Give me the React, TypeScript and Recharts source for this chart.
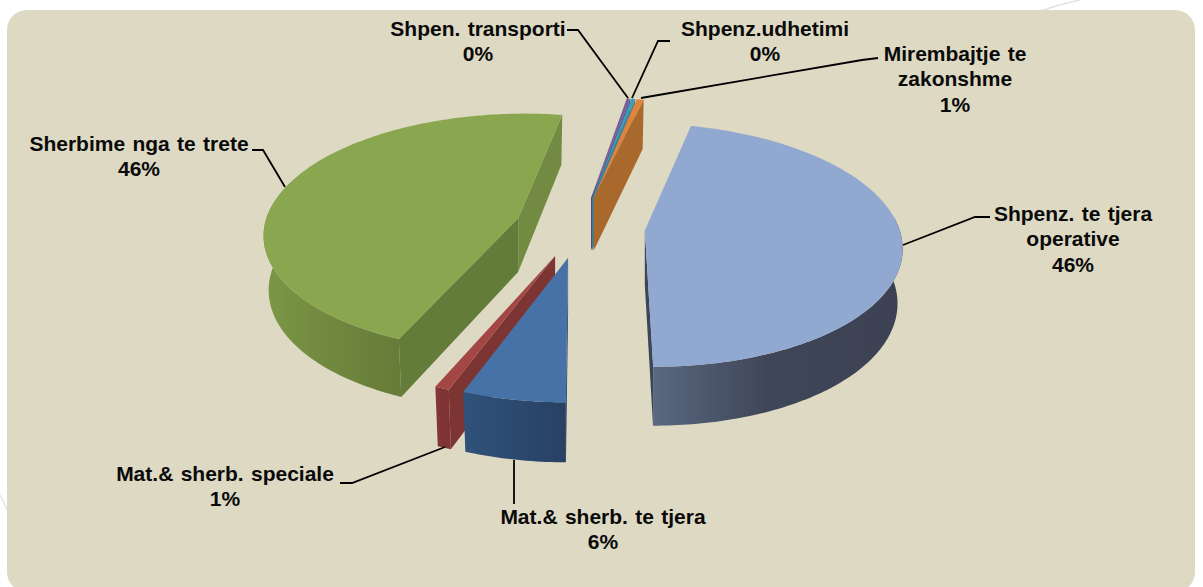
import React from 'react';
import { PieChart, Pie } from 'recharts';

// clockwise from the thin red slice, so that overlapping slices paint in the right order
const categories = [
  'Mat.& sherb. speciale',
  'Sherbime nga te trete',
  'Shpen. transporti',
  'Shpenz.udhetimi',
  'Mirembajtje te zakonshme',
  'Shpenz. te tjera operative',
  'Mat.& sherb. te tjera',
];
const values = [0.8, 46.2, 0.25, 0.3, 0.51, 46.3, 5.64];

const tableData = categories.map((name, i) => ({ name, value: values[i] }));

// top face, rim gradient (left, mid, right), start cut, end cut
const palette = [
  { top: '#a34644', rim: ['#86383a', '#7f3433', '#7f3433'], startCut: '#7c3533', endCut: '#7c3533' },
  { top: '#8aa64e', rim: ['#7b9846', '#72893f', '#667c38'], startCut: '#647c39', endCut: '#728a41' },
  { top: '#7a5c9e', rim: ['#5c4578', '#5c4578', '#5c4578'], startCut: '#5c4578', endCut: '#5c4578' },
  { top: '#3f9ab5', rim: ['#2f7589', '#2f7589', '#2f7589'], startCut: '#3f7f95', endCut: '#3a8199' },
  { top: '#e0843c', rim: ['#a9682c', '#a9682c', '#a9682c'], startCut: '#a9682c', endCut: '#a9682c' },
  { top: '#91a8d0', rim: ['#5a6880', '#3f4658', '#3c4254'], startCut: '#3a4659', endCut: '#3a4659' },
  { top: '#4672a8', rim: ['#30527b', '#2c4a70', '#284163'], startCut: '#284163', endCut: '#284163' },
];

// hand placed label boxes, the way they sit on the original slide
const labelLayout = [
  { lines: ['Mat.& sherb. speciale'], x: 225, y: 473, leader: '340,483 352,483 445,447' },
  { lines: ['Sherbime nga te trete'], x: 139, y: 143, leader: '252,150 263,150 285,187' },
  { lines: ['Shpen. transporti'], x: 478, y: 28, leader: '567,30 578,30 628,98' },
  { lines: ['Shpenz.udhetimi'], x: 765, y: 28, leader: '670,41 658,41 632,98' },
  { lines: ['Mirembajtje te', 'zakonshme'], x: 955, y: 53, leader: '878,58 862,60 641,98' },
  { lines: ['Shpenz. te tjera', 'operative'], x: 1073, y: 213, leader: '990,217 975,217 903,245' },
  { lines: ['Mat.& sherb. te tjera'], x: 603, y: 516, leader: '514,460 514,504' },
];

const EXPLODE = 0.256; // in radii, every slice is pulled out by the same amount
const Y_SQUASH = 0.469;
const PERSPECTIVE = 0.12;
const DEPTH_PERSPECTIVE = 0.08;
const DEPTH = 54;
const BOTTOM_SCALE = 0.98;

function Slice3D(props: any) {
  const { cx, cy, outerRadius, startAngle, endAngle, name } = props;
  const i = categories.indexOf(name);
  const colors = palette[i];
  const rad = (d: number) => (d * Math.PI) / 180;
  const mid = rad((startAngle + endAngle) / 2);
  const offU = EXPLODE * Math.cos(mid);
  const offV = -EXPLODE * Math.sin(mid);

  // pie plane -> screen, v grows towards the viewer
  const onPlane = (u: number, v: number): [number, number] => {
    const w = 1 - PERSPECTIVE * v;
    return [cx + (outerRadius * u) / w, cy + (outerRadius * Y_SQUASH * v) / w];
  };
  const apex = onPlane(offU, offV);
  const extrude = (p: [number, number], v: number): [number, number] => [
    apex[0] + (p[0] - apex[0]) * BOTTOM_SCALE,
    p[1] + DEPTH / (1 - DEPTH_PERSPECTIVE * v),
  ];
  const rimTop = (deg: number) => onPlane(offU + Math.cos(rad(deg)), offV - Math.sin(rad(deg)));
  const rimBottom = (deg: number) => extrude(rimTop(deg), offV - Math.sin(rad(deg)));
  const apexBottom = extrude(apex, offV);
  const toPts = (pts: [number, number][]) => pts.map(p => `${p[0].toFixed(2)},${p[1].toFixed(2)}`).join(' ');

  const steps = Math.max(2, Math.ceil(Math.abs(endAngle - startAngle)));
  const angles: number[] = [];
  for (let s = 0; s <= steps; s++) angles.push(startAngle + ((endAngle - startAngle) * s) / steps);
  const topArc = angles.map(rimTop);

  // the part of the rim that faces the viewer, from widest point to widest point
  const frontAngles = angles.filter(a => Math.sin(rad(a)) < 0.13);
  const frontTop = frontAngles.map(rimTop);
  const frontBottom = frontAngles.map(rimBottom);
  const frontXs = frontTop.map(p => p[0]);
  const gradId = `rim-${i}`;

  // a cut face shows when the slice lies on the other side of the edge than the extrusion
  const midPoint = rimTop((startAngle + endAngle) / 2);
  const cutVisible = (deg: number) => {
    const p = rimTop(deg);
    const dx = p[0] - apex[0];
    const dy = p[1] - apex[1];
    const side = dx * (midPoint[1] - apex[1]) - dy * (midPoint[0] - apex[0]);
    return dx * side < 0;
  };

  return (
    <g>
      {frontXs.length > 0 && (
        <defs>
          <linearGradient id={gradId} gradientUnits="userSpaceOnUse" x1={Math.min(...frontXs)} x2={Math.max(...frontXs) + 0.01} y1={0} y2={0}>
            <stop offset="0%" stopColor={colors.rim[0]} />
            <stop offset="45%" stopColor={colors.rim[1]} />
            <stop offset="100%" stopColor={colors.rim[2]} />
          </linearGradient>
        </defs>
      )}
      {cutVisible(startAngle) && (
        <polygon fill={colors.startCut} points={toPts([apex, rimTop(startAngle), rimBottom(startAngle), apexBottom])} />
      )}
      {cutVisible(endAngle) && (
        <polygon fill={colors.endCut} points={toPts([apex, rimTop(endAngle), rimBottom(endAngle), apexBottom])} />
      )}
      {frontXs.length > 1 && (
        <polygon fill={`url(#${gradId})`} points={toPts([...frontTop, ...[...frontBottom].reverse()])} />
      )}
      <polygon fill={colors.top} points={toPts([apex, ...topArc])} />
    </g>
  );
}

function SliceLabel(props: any) {
  const { name, percent } = props;
  const layout = labelLayout[categories.indexOf(name)];
  const rows = [...layout.lines, `${Math.round(percent * 100)}%`];
  return (
    <g>
      <polyline points={layout.leader} fill="none" stroke="#000" strokeWidth={1.8} />
      {rows.map((row, r) => (
        <text
          key={r}
          x={layout.x}
          y={layout.y + r * 25.5}
          textAnchor="middle"
          dominantBaseline="central"
          fontFamily="'Liberation Sans', Arial, sans-serif"
          fontWeight="bold"
          fontSize={21}
          wordSpacing={1.5}
          fill="#0a0a0a"
        >
          {row}
        </text>
      ))}
    </g>
  );
}

export default function App() {
  return (
    <div style={{ position: 'absolute', left: 0, top: 0, width: 1203, height: 587, background: '#fff', overflow: 'hidden' }}>
      {/* faint slide decoration behind the panel */}
      <svg width={1203} height={587} style={{ position: 'absolute', left: 0, top: 0 }}>
        <path d="M1040 11 Q1060 4 1080 0" stroke="#e4e4e4" strokeWidth={1.5} fill="none" />
        <path d="M0 495 Q4 502 8 512" stroke="#e4e4e4" strokeWidth={1.5} fill="none" />
      </svg>
      <div style={{ position: 'absolute', left: 7, top: 10, width: 1188, height: 582, background: '#ddd9c3', borderRadius: 20 }} />
      <div style={{ position: 'absolute', left: 0, top: 0 }}>
        <PieChart width={1203} height={587} margin={{ top: 0, right: 0, bottom: 0, left: 0 }}>
          <Pie
            data={tableData}
            dataKey="value"
            nameKey="name"
            cx={580}
            cy={226.8}
            innerRadius={0}
            outerRadius={254}
            startAngle={-110.4}
            endAngle={-470.4}
            stroke="none"
            shape={(p: any) => <Slice3D {...p} />}
            label={(p: any) => <SliceLabel {...p} />}
            labelLine={false}
            isAnimationActive={false}
          />
        </PieChart>
      </div>
    </div>
  );
}
